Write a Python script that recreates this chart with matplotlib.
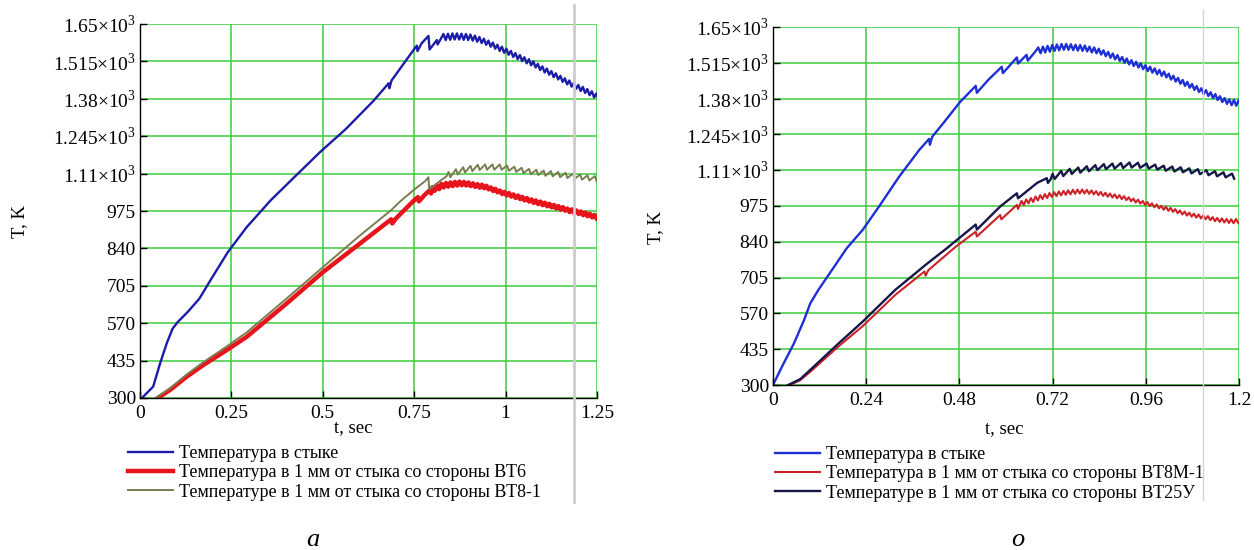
import numpy as np
import matplotlib
matplotlib.use('Agg')
from matplotlib import pyplot as plt
from matplotlib.lines import Line2D

plt.rcParams['font.family'] = ['Liberation Serif', 'DejaVu Serif']
plt.rcParams['mathtext.fontset'] = 'custom'
plt.rcParams['mathtext.rm'] = 'Liberation Serif'

#%% axes ticks
yticks = [300, 435, 570, 705, 840, 975, 1110, 1245, 1380, 1515, 1650]
ytick_labels = ['300', '435', '570', '705', '840', '975',
                '1.11×10$^3$', '1.245×10$^3$', '1.38×10$^3$', '1.515×10$^3$', '1.65×10$^3$']
xticks_a = [0, 0.25, 0.5, 0.75, 1, 1.25]
xtick_labels_a = ['0', '0.25', '0.5', '0.75', '1', '1.25']
xticks_b = [0, 0.24, 0.48, 0.72, 0.96, 1.2]
xtick_labels_b = ['0', '0.24', '0.48', '0.72', '0.96', '1.2']

#%% panel a: joint (blue)
t_a_joint = [0, 0.005, 0.018, 0.036, 0.055, 0.073, 0.089, 0.103, 0.13, 0.162, 0.195, 0.24,
             0.292, 0.357, 0.422, 0.492, 0.563, 0.639, 0.680, 0.682, 0.688, 0.747, 0.757,
             0.759, 0.770, 0.789, 0.792, 0.812, 0.814, 0.826]
T_a_joint = [300, 300, 317, 341, 425, 497, 550, 574, 610, 658, 730, 826,
             917, 1013, 1097, 1187, 1271, 1373, 1436, 1418, 1446, 1554, 1572,
             1552, 1580, 1607, 1558, 1592, 1576, 1604]
saw_a_joint_start, saw_a_joint_period, saw_a_joint_depth = 0.830, 0.0123, 22
saw_a_joint_peaks = [1614, 1615, 1616, 1616, 1615, 1614, 1612, 1608, 1603, 1597, 1590, 1583,
                     1575, 1568, 1561, 1553, 1545, 1538, 1530, 1523, 1515, 1506, 1497, 1489,
                     1480, 1472, 1463, 1454, 1446, 1438, 1430, 1423, 1415, 1407, 1399]

# panel a: 1 mm, BT6 side (red)
t_a_bt6 = [0.049, 0.082, 0.128, 0.173, 0.235, 0.292, 0.40, 0.50, 0.60, 0.687, 0.690, 0.700,
           0.747, 0.760, 0.763, 0.780, 0.793, 0.796]
T_a_bt6 = [300, 329, 377, 419, 471, 521, 640, 754, 856, 945, 930, 948,
           1010, 1025, 1010, 1035, 1051, 1038]
saw_a_bt6_start, saw_a_bt6_period, saw_a_bt6_depth = 0.800, 0.0123, 13
saw_a_bt6_peaks = [1061, 1067, 1073, 1076, 1078, 1080, 1081, 1080, 1078, 1075, 1072, 1070,
                   1066, 1060, 1055, 1049, 1044, 1040, 1035, 1031, 1026, 1022, 1017, 1013,
                   1009, 1005, 1001, 997, 993, 989, 984, 981, 977, 973, 969, 965, 961]

# panel a: 1 mm, BT8-1 side (olive)
t_a_bt81 = [0.043, 0.082, 0.128, 0.173, 0.235, 0.292, 0.40, 0.50, 0.60, 0.687, 0.711, 0.747,
            0.780, 0.789, 0.791, 0.80, 0.825, 0.838]
T_a_bt81 = [300, 335, 385, 429, 484, 537, 658, 772, 885, 978, 1009, 1049,
            1083, 1097, 1054, 1062, 1088, 1100]
saw_a_bt81_start, saw_a_bt81_period, saw_a_bt81_depth = 0.844, 0.02, 19
saw_a_bt81_peaks = [1116, 1126, 1133, 1138, 1142, 1143, 1143, 1143, 1139, 1135, 1131, 1127,
                    1124, 1121, 1119, 1116, 1113, 1110, 1107, 1104, 1101]

#%% panel b: joint (blue)
t_b_joint = [0, 0.023, 0.054, 0.080, 0.096, 0.117, 0.158, 0.190, 0.231, 0.273, 0.325, 0.377,
             0.402, 0.404, 0.410, 0.440, 0.481, 0.522, 0.525, 0.554, 0.589, 0.592, 0.628,
             0.631, 0.653, 0.656, 0.677]
T_b_joint = [300, 369, 457, 545, 608, 659, 747, 816, 885, 973, 1086, 1187,
             1228, 1206, 1236, 1290, 1366, 1428, 1402, 1450, 1500, 1476, 1535,
             1512, 1545, 1523, 1560]
saw_b_joint_start, saw_b_joint_period, saw_b_joint_depth = 0.683, 0.012, 22
saw_b_joint_peaks = [1573, 1576, 1579, 1582, 1584, 1586, 1586, 1585, 1583, 1582, 1580, 1576,
                     1573, 1568, 1562, 1556, 1550, 1544, 1537, 1531, 1525, 1519, 1513, 1506,
                     1500, 1494, 1488, 1482, 1474, 1466, 1458, 1450, 1443, 1435, 1427, 1419,
                     1412, 1404, 1397, 1389, 1382, 1377, 1375, 1374]

# panel b: 1 mm, BT8M-1 side (red)
t_b_bt8m = [0.044, 0.07, 0.096, 0.169, 0.231, 0.315, 0.390, 0.393, 0.400, 0.471, 0.522, 0.525,
            0.585, 0.588, 0.628, 0.631]
T_b_bt8m = [300, 318, 350, 446, 522, 640, 728, 712, 733, 822, 878, 860,
            941, 925, 979, 964]
saw_b_bt8m_start, saw_b_bt8m_period, saw_b_bt8m_depth = 0.640, 0.012, 15
saw_b_bt8m_peaks = [994, 1000, 1005, 1011, 1016, 1020, 1024, 1027, 1030, 1032, 1034, 1036,
                    1037, 1037, 1036, 1034, 1031, 1028, 1025, 1022, 1019, 1016, 1012, 1008,
                    1003, 999, 994, 990, 985, 981, 976, 972, 968, 963, 958, 954,
                    950, 946, 943, 940, 937, 933, 930, 928, 926, 925, 926]

# panel b: 1 mm, BT25U side (navy)
t_b_bt25 = [0.039, 0.07, 0.096, 0.169, 0.231, 0.315, 0.398, 0.447, 0.522, 0.525, 0.585, 0.628,
            0.631, 0.680, 0.705, 0.708, 0.715]
T_b_bt25 = [300, 322, 357, 457, 539, 659, 759, 815, 905, 886, 973, 1023,
            1004, 1062, 1080, 1062, 1076]
saw_b_bt25_start, saw_b_bt25_period, saw_b_bt25_depth = 0.720, 0.022, 19
saw_b_bt25_peaks = [1096, 1107, 1115, 1120, 1125, 1129, 1133, 1135, 1137, 1139, 1138, 1135,
                    1131, 1127, 1124, 1121, 1117, 1114, 1110, 1106, 1102, 1097]

labels_a = ['Температура в стыке',
            'Температура в 1 мм от стыка со стороны ВТ6',
            'Температуре в 1 мм от стыка со стороны ВТ8-1']
labels_b = ['Температура в стыке',
            'Температура в 1 мм от стыка со стороны ВТ8М-1',
            'Температуре в 1 мм от стыка со стороны ВТ25У']


def with_teeth(t, T, start, period, peaks, depth, frac):
    # smooth part followed by the ripple: each peak drops by `depth`
    tt, TT = list(t), list(T)
    for k, p in enumerate(peaks):
        tk = start + k * period
        tt += [tk, tk + frac * period]
        TT += [p, p - depth]
    return tt, TT


def style_axes(ax, xmax, xticks, xlabels):
    ax.set_xlim(0, xmax)
    ax.set_ylim(300, 1650)
    ax.set_xticks(xticks)
    ax.set_xticklabels(xlabels)
    ax.set_yticks(yticks)
    ax.set_yticklabels(ytick_labels)
    ax.grid(True, color='#3ccc3c', linewidth=1.1)
    ax.set_axisbelow(True)
    for s in ['top', 'right']:
        ax.spines[s].set_visible(False)
    for s in ['left', 'bottom']:
        ax.spines[s].set_color('black')
        ax.spines[s].set_linewidth(1.0)
    ax.tick_params(direction='in', length=5, width=1, labelsize=14, pad=3)
    ax.tick_params(axis='x', pad=5)


fig = plt.figure(figsize=(12.54, 5.5), dpi=100)
axA = fig.add_axes([140 / 1254, 1 - 398 / 550, 457 / 1254, 374 / 550])
axB = fig.add_axes([773 / 1254, 1 - 385 / 550, 466 / 1254, 358 / 550])

#%% panel a
x, y = with_teeth(t_a_joint, T_a_joint, saw_a_joint_start, saw_a_joint_period,
                  saw_a_joint_peaks, saw_a_joint_depth, 0.5)
axA.plot(x, y, color='#1c1ca8', lw=1.7, label=labels_a[0])
x, y = with_teeth(t_a_bt6, T_a_bt6, saw_a_bt6_start, saw_a_bt6_period,
                  saw_a_bt6_peaks, saw_a_bt6_depth, 0.5)
axA.plot(x, y, color='#e8141c', lw=3.2, label=labels_a[1])
x, y = with_teeth(t_a_bt81, T_a_bt81, saw_a_bt81_start, saw_a_bt81_period,
                  saw_a_bt81_peaks, saw_a_bt81_depth, 0.25)
axA.plot(x, y, color='#7b7b50', lw=1.4, label=labels_a[2])
style_axes(axA, 1.25, xticks_a, xtick_labels_a)

#%% panel b
x, y = with_teeth(t_b_joint, T_b_joint, saw_b_joint_start, saw_b_joint_period,
                  saw_b_joint_peaks, saw_b_joint_depth, 0.5)
axB.plot(x, y, color='#1f2fd6', lw=1.7, label=labels_b[0])
x, y = with_teeth(t_b_bt8m, T_b_bt8m, saw_b_bt8m_start, saw_b_bt8m_period,
                  saw_b_bt8m_peaks, saw_b_bt8m_depth, 0.5)
axB.plot(x, y, color='#cc2228', lw=1.5, label=labels_b[1])
x, y = with_teeth(t_b_bt25, T_b_bt25, saw_b_bt25_start, saw_b_bt25_period,
                  saw_b_bt25_peaks, saw_b_bt25_depth, 0.25)
axB.plot(x, y, color='#16164a', lw=1.7, label=labels_b[2])
style_axes(axB, 1.2, xticks_b, xtick_labels_b)

#%% labels, legends, captions
fig.text(353 / 1254, 1 - 428 / 550, 't, sec', ha='center', va='center', fontsize=13.5)
fig.text(1004 / 1254, 1 - 429 / 550, 't, sec', ha='center', va='center', fontsize=13.5)
fig.text(20 / 1254, 1 - 222 / 550, 'T, K', rotation=90, ha='center', va='center', fontsize=13.5)
fig.text(656 / 1254, 1 - 227 / 550, 'T, K', rotation=90, ha='center', va='center', fontsize=13.5)

legend_kw = dict(loc='upper left', frameon=False, fontsize=13, handlelength=2.5,
                 handletextpad=0.3, labelspacing=0.13, borderpad=0, borderaxespad=0)
axA.legend(bbox_to_anchor=(128 / 1254, 1 - 445 / 550), bbox_transform=fig.transFigure, **legend_kw)
axB.legend(bbox_to_anchor=(775 / 1254, 1 - 446 / 550), bbox_transform=fig.transFigure, **legend_kw)

fig.text(313 / 1254, 1 - 540 / 550, 'a', style='italic', ha='center', va='center', fontsize=19)
fig.text(1018 / 1254, 1 - 540 / 550, 'o', style='italic', ha='center', va='center', fontsize=19)

# light grey screen-capture guides
fig.add_artist(Line2D([574 / 1254, 574 / 1254], [1 - 5 / 550, 1 - 502 / 550],
                      color='#cccccc', lw=2, transform=fig.transFigure))
fig.add_artist(Line2D([1203 / 1254, 1203 / 1254], [1 - 10 / 550, 1 - 500 / 550],
                      color='#d4d4d4', lw=1, transform=fig.transFigure))

fig.savefig('out.png', dpi=100)
